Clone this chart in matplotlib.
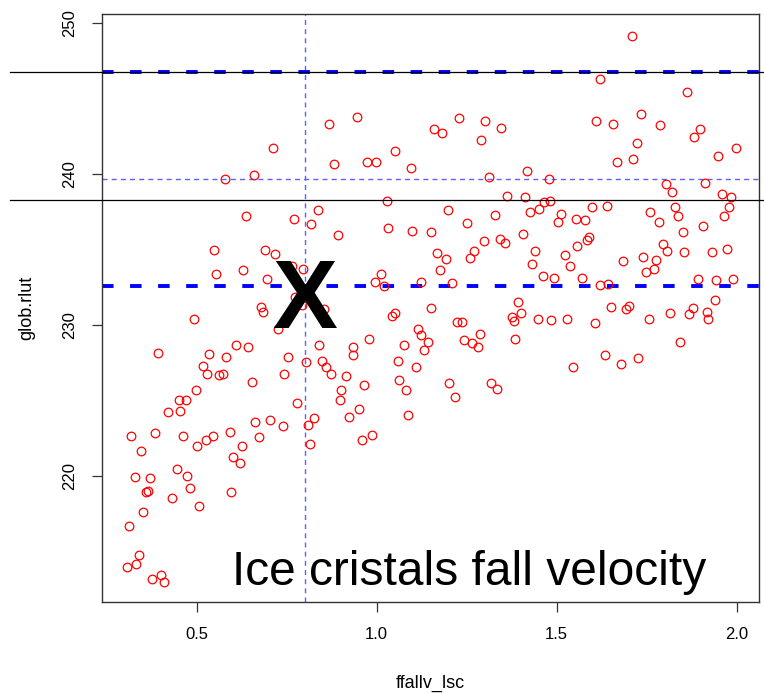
import numpy as np
import matplotlib.pyplot as plt
from matplotlib.transforms import blended_transform_factory

plt.rcParams['font.family'] = ['Liberation Sans', 'DejaVu Sans']
plt.rcParams['lines.scale_dashes'] = False

# ensemble: ice fall velocity parameter vs global mean OLR
ffallv_lsc = [
    0.868, 0.712, 0.658, 0.578, 0.881, 0.838, 0.946, 1.160, 1.181, 1.229,
    1.302, 1.289, 1.345, 0.974, 0.998, 1.050, 1.094, 1.313, 1.418, 1.478,
    1.028, 1.363, 1.413, 1.466, 1.427, 1.199, 1.328, 1.708, 1.619, 1.862,
    1.608, 1.656, 1.735, 1.787, 1.722, 1.898, 1.881, 1.998, 1.948, 1.668,
    1.712, 1.803, 1.821, 1.912, 1.959, 1.984, 1.482, 1.597, 1.639, 1.759,
    1.829, 1.978, 1.512, 1.452, 0.638, 0.769, 0.818, 0.548, 0.689, 0.717,
    0.764, 0.795, 0.554, 0.628, 0.696, 0.774, 0.793, 0.854, 0.679, 0.683,
    0.727, 0.492, 0.393, 0.610, 0.643, 0.533, 0.581, 0.517, 0.529, 0.563,
    0.574, 0.653, 0.754, 0.841, 0.803, 0.847, 0.860, 0.872, 0.743, 0.499,
    0.451, 0.469, 0.779, 0.419, 0.454, 0.893, 1.031, 1.099, 1.151, 1.251,
    1.299, 1.343, 1.356, 1.406, 1.440, 1.432, 1.463, 1.168, 1.192, 1.176,
    1.270, 1.259, 1.012, 0.995, 1.021, 1.123, 1.210, 1.392, 1.402, 1.375,
    1.382, 1.449, 1.484, 1.152, 1.042, 1.052, 1.114, 1.123, 1.142, 1.132,
    1.224, 1.236, 1.286, 1.243, 1.264, 1.281, 1.385, 0.979, 0.933, 0.935,
    1.075, 0.914, 1.059, 1.108, 0.966, 1.063, 1.082, 0.901, 0.897, 1.201,
    1.218, 1.318, 1.335, 0.951, 1.088, 1.503, 1.553, 1.579, 1.784, 1.836,
    1.852, 1.906, 1.964, 1.591, 1.583, 1.557, 1.523, 1.536, 1.493, 1.569,
    1.621, 1.643, 1.684, 1.741, 1.777, 1.769, 1.748, 1.795, 1.807, 1.854,
    1.931, 1.974, 1.893, 1.943, 1.991, 1.939, 1.879, 1.868, 1.918, 1.920,
    1.815, 1.756, 1.650, 1.692, 1.702, 1.528, 1.606, 1.842, 1.635, 1.678,
    1.726, 1.544, 0.662, 0.704, 0.739, 0.825, 0.810, 0.816, 0.317, 0.384,
    0.461, 0.500, 0.525, 0.546, 0.592, 0.626, 0.674, 0.346, 0.444, 0.472,
    0.481, 0.601, 0.619, 0.328, 0.369, 0.359, 0.366, 0.432, 0.594, 0.506,
    0.351, 0.311, 0.340, 0.331, 0.307, 0.377, 0.401, 0.410, 0.923, 0.958,
    0.987,
]
glob_rlut = [
    243.31, 241.76, 239.97, 239.69, 240.68, 237.67, 243.78, 243.02, 242.74, 243.73,
    243.53, 242.25, 243.07, 240.82, 240.82, 241.56, 240.44, 239.82, 240.20, 239.69,
    238.23, 238.58, 238.48, 238.16, 237.50, 237.63, 237.34, 249.15, 246.34, 245.45,
    243.51, 243.35, 244.02, 243.29, 242.07, 243.02, 242.49, 241.72, 241.19, 240.82,
    241.03, 239.34, 238.81, 239.42, 238.67, 238.50, 238.23, 237.83, 237.91, 237.53,
    237.87, 237.83, 237.40, 237.70, 237.26, 237.06, 236.69, 235.00, 234.96, 234.70,
    233.96, 233.72, 233.39, 233.66, 233.09, 231.87, 231.34, 231.07, 231.24, 230.91,
    229.77, 230.43, 228.18, 228.67, 228.54, 228.11, 227.91, 227.30, 226.75, 226.68,
    226.81, 226.22, 227.91, 228.73, 227.56, 227.65, 227.23, 226.75, 226.75, 225.69,
    225.09, 225.06, 224.88, 224.28, 224.31, 236.01, 236.44, 236.24, 236.16, 236.75,
    235.56, 235.71, 235.43, 236.02, 234.92, 234.08, 233.29, 234.80, 234.41, 233.68,
    234.90, 234.43, 233.39, 232.86, 232.60, 232.88, 232.82, 231.58, 230.83, 230.54,
    230.26, 230.39, 230.34, 231.16, 230.63, 230.79, 229.75, 229.35, 228.87, 228.34,
    230.21, 230.21, 229.42, 229.00, 228.80, 228.60, 229.07, 229.07, 228.57, 228.04,
    228.71, 226.63, 227.63, 227.23, 226.04, 226.37, 225.69, 225.75, 225.04, 226.19,
    225.27, 226.17, 225.79, 224.47, 224.07, 236.82, 237.02, 236.97, 236.82, 237.26,
    236.16, 236.55, 237.22, 235.84, 235.63, 235.25, 234.67, 233.92, 233.13, 233.15,
    232.68, 232.75, 234.25, 234.50, 234.30, 233.74, 233.53, 235.40, 234.92, 234.83,
    234.87, 235.03, 233.04, 233.00, 233.06, 231.69, 231.12, 230.76, 230.89, 230.43,
    230.83, 230.39, 231.19, 231.09, 231.27, 230.43, 230.15, 228.93, 228.07, 227.47,
    227.81, 227.21, 223.63, 223.76, 223.32, 223.87, 223.37, 222.15, 222.68, 222.86,
    222.66, 222.04, 222.44, 222.70, 222.97, 221.99, 222.64, 221.66, 220.49, 220.03,
    219.26, 221.27, 220.89, 219.94, 219.87, 218.95, 219.01, 218.59, 218.97, 218.02,
    217.67, 216.69, 214.79, 214.19, 214.00, 213.18, 213.49, 213.00, 223.92, 222.41,
    222.74,
]

x_default = 0.8              # default ffallv_lsc
obs_range = [246.80, 232.58]  # thick dashed bounds
rlut_ref = 239.69            # thin dotted reference
rlut_lines = [246.80, 238.30]

x_ticks = [0.5, 1.0, 1.5, 2.0]
y_ticks = [220, 230, 240, 250]

fig = plt.figure(figsize=(7.64, 6.93), dpi=100)
ax = fig.add_axes([102/764, 91/693, 657/764, 588/693])

ax.plot(ffallv_lsc, glob_rlut, 'o', mfc='none', mec='red', ms=6.2, mew=0.9,
        zorder=3)

ax.axvline(x_default, color='#5f5fff', lw=1.0, dashes=(3.6, 3.0), zorder=2)
ax.axhline(rlut_ref, color='#5f5fff', lw=1.0, dashes=(3.6, 3.0), zorder=2)
for yv in obs_range:
    ax.axhline(yv, color='#0000ff', lw=2.8, dashes=(8.3, 11.9), zorder=2)

# reference lines run across the whole figure width
trans = blended_transform_factory(fig.transFigure, ax.transData)
for yv in rlut_lines:
    ax.plot([10/764, 1.0], [yv, yv], color='black', lw=0.9, transform=trans,
            clip_on=False, zorder=4)

ax.text(x_default, 229.83, 'X', fontsize=70, fontweight='bold',
        ha='center', va='baseline', zorder=5)
ax.text(1.256, 212.83, 'Ice cristals fall velocity', fontsize=34.5,
        ha='center', va='baseline', zorder=5)

ax.set_xlim(0.237, 2.062)
ax.set_ylim(211.68, 250.62)
ax.set_xticks(x_ticks)
ax.set_xticklabels(['0.5', '1.0', '1.5', '2.0'])
ax.set_yticks(y_ticks)
ax.tick_params(axis='both', labelsize=12, length=7.2, width=0.9, pad=10.5,
               color='#333333')
ax.tick_params(axis='y', labelrotation=90)
for lab in ax.get_yticklabels():
    lab.set_va('center')

for sp in ax.spines.values():
    sp.set_linewidth(1.0)
    sp.set_color('#333333')

ax.set_xlabel('ffallv_lsc', fontsize=13, va='center')
ax.xaxis.set_label_coords(0.5, (602 - 683) / 588)
ax.set_ylabel('glob.rlut', fontsize=13, va='center')
ax.yaxis.set_label_coords((27 - 102) / 657, 0.5)

fig.savefig('out.png', dpi=100)
